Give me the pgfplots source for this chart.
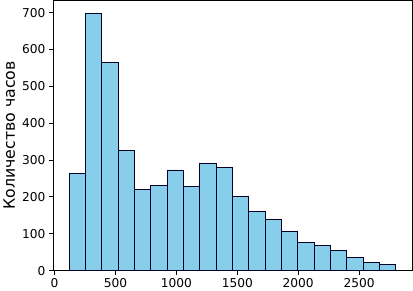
\documentclass[border=0pt]{standalone}
\usepackage{pgfplots}
\pgfplotsset{compat=1.18}
\usepackage{fontspec}
\setmainfont{DejaVu Sans}
\definecolor{skyblue}{RGB}{135,206,235}
\begin{document}
\begin{tikzpicture}
\begin{axis}[
 width=354pt, height=266pt, scale only axis,
 xmin=-13, xmax=2939, ymin=0, ymax=733,
 xtick={0,500,...,2500}, ytick={0,100,...,700},
 tick align=outside, tick pos=left,
 major tick length=4pt,
 tick style={black, line width=0.8pt},
 ticklabel style={font=\fontsize{12}{14}\selectfont},
 /pgf/number format/assume math mode=true,
 /pgf/number format/1000 sep={},
 ylabel={Количество часов},
 ylabel style={font=\fontsize{15.5}{18}\selectfont},
 axis line style={line width=0.8pt},
]
\addplot[ybar interval, fill=skyblue, draw=black!85!blue, line width=0.9pt] table {
x y
121 263
255 698
389 565
523 327
657 221
791 230
925 273
1059 227
1193 291
1327 280
1461 202
1595 160
1729 139
1863 107
1997 76
2131 68
2265 54
2399 35
2533 21
2667 17
2801 17
};
\end{axis}
\end{tikzpicture}
\end{document}
